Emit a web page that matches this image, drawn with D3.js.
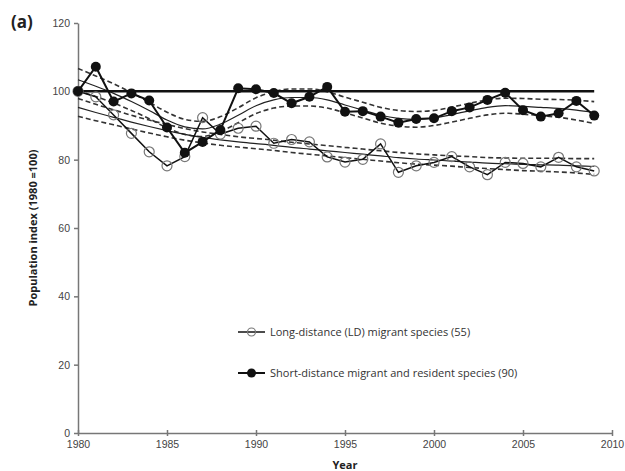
<!DOCTYPE html>
<html>
<head>
<meta charset="utf-8">
<script src="https://cdn.jsdelivr.net/npm/d3@7"></script>
<style>
  body { margin: 0; background: #fff; }
  svg { font-family: "Open Sans", sans-serif; }
  .tick text { fill: #444; font-size: 10.5px; }
  .axis path, .axis line { stroke: #777; stroke-width: 1.5; }
</style>
</head>
<body>
<div id="chart"></div>
<script>
var width = 625, height = 471;
var margin = {top: 23, right: 13, bottom: 38, left: 78};

var years = d3.range(1980, 2010);

// long-distance migrants (open circles)
var ldIndex = [100, 98.4, 93.1, 87.7, 82.3, 78.2, 80.9, 92.3, 87.5, 89.2,
               89.8, 84.8, 85.9, 85.2, 80.8, 79.3, 80.1, 84.6, 76.3, 78.2,
               79.2, 80.9, 77.9, 75.6, 79.2, 78.9, 77.9, 80.7, 77.9, 76.7];
// short-distance migrants and residents (filled circles)
var sdIndex = [100, 107.2, 97.0, 99.4, 97.3, 89.4, 82.0, 85.2, 88.7, 100.9,
               100.6, 99.5, 96.5, 98.4, 101.3, 94.0, 94.2, 92.6, 90.8, 91.9,
               92.1, 94.2, 95.3, 97.5, 99.6, 94.5, 92.6, 93.6, 97.2, 92.9];

// smoothed trends and confidence limits
var sdTrend = [103.4, 101.5, 99.4, 97, 94.4, 91.6, 89.6, 89, 90.4, 93,
               95.8, 97.5, 98.2, 98.2, 97.5, 96, 94.5, 93, 92.1, 91.8,
               92.2, 93.2, 94.3, 95.3, 95.8, 95.6, 95.3, 95, 94.5, 93.8];
var sdHalf  = [3.3, 3.0, 2.8, 2.6, 2.4, 2.3, 2.2, 2.2, 2.2, 2.2,
               2.3, 2.4, 2.5, 2.5, 2.4, 2.3, 2.3, 2.3, 2.3, 2.3,
               2.2, 2.2, 2.2, 2.2, 2.2, 2.3, 2.4, 2.6, 2.9, 3.2];
var ldTrend = [95.3, 93.8, 92.4, 91, 89.7, 88.5, 87.4, 86.5, 85.8, 85.2,
               84.7, 84.2, 83.6, 83.1, 82.6, 82.1, 81.6, 81.1, 80.6, 80.2,
               79.9, 79.6, 79.3, 79, 78.8, 78.6, 78.5, 78.4, 78.2, 78];
var ldHalf  = [2.6, 2.4, 2.2, 2.0, 1.9, 1.8, 1.7, 1.6, 1.6, 1.5,
               1.5, 1.5, 1.5, 1.5, 1.5, 1.5, 1.5, 1.5, 1.5, 1.5,
               1.5, 1.5, 1.6, 1.6, 1.7, 1.8, 1.9, 2.0, 2.1, 2.3];

var xTicks = [1980, 1985, 1990, 1995, 2000, 2005, 2010];
var yTicks = [0, 20, 40, 60, 80, 100, 120];

var svg = d3.select("#chart").append("svg")
    .attr("width", width)
    .attr("height", height);

var x = d3.scaleLinear().domain([1980, 2010]).range([margin.left, width - margin.right]);
var y = d3.scaleLinear().domain([0, 120]).range([height - margin.bottom, margin.top]);

// axes
svg.append("g")
  .attr("class", "axis")
  .attr("transform", "translate(0," + y(0) + ")")
  .call(d3.axisBottom(x).tickValues(xTicks).tickFormat(d3.format("d")).tickSizeInner(3).tickSizeOuter(0))
  .call(function(g){
    g.selectAll(".tick line").attr("y1", -3);
    g.selectAll(".tick text").attr("dy", "0.9em");
  });

svg.append("g")
  .attr("class", "axis")
  .attr("transform", "translate(" + x(1980) + ",0)")
  .call(d3.axisLeft(y).tickValues(yTicks).tickSizeInner(4).tickSizeOuter(0))
  .call(function(g){ g.selectAll(".tick text").attr("x", -8); });

svg.append("text")
  .attr("x", 345).attr("y", 469)
  .attr("text-anchor", "middle")
  .attr("font-weight", "bold").attr("font-size", 11).attr("fill", "#222")
  .text("Year");

svg.append("text")
  .attr("transform", "translate(37," + ((y(0) + y(120)) / 2) + ") rotate(-90)")
  .attr("text-anchor", "middle")
  .attr("font-weight", "bold").attr("font-size", 11).attr("fill", "#222")
  .text("Population index (1980 =100)");

svg.append("text")
  .attr("x", 11).attr("y", 28)
  .attr("font-weight", "bold").attr("font-size", 17).attr("fill", "#222")
  .text("(a)");

// trend lines
var line = d3.line()
  .x(function(d){ return x(d[0]); })
  .y(function(d){ return y(d[1]); })
  .curve(d3.curveMonotoneX);

function band(trend, half){
  var up = years.map(function(yr, i){ return [yr, trend[i] + half[i]]; });
  var lo = years.map(function(yr, i){ return [yr, trend[i] - half[i]]; });
  var mid = years.map(function(yr, i){ return [yr, trend[i]]; });
  [up, lo].forEach(function(p){
    svg.append("path").attr("d", line(p))
      .attr("fill", "none").attr("stroke", "#333")
      .attr("stroke-width", 1.6).attr("stroke-dasharray", "5,3");
  });
  svg.append("path").attr("d", line(mid))
    .attr("fill", "none").attr("stroke", "#222").attr("stroke-width", 1.2);
}
band(sdTrend, sdHalf);
band(ldTrend, ldHalf);

// reference at 100
svg.append("line")
  .attr("x1", x(1980)).attr("x2", x(2009))
  .attr("y1", y(100)).attr("y2", y(100))
  .attr("stroke", "#111").attr("stroke-width", 2.5);

var straight = d3.line()
  .x(function(d){ return x(d[0]); })
  .y(function(d){ return y(d[1]); });

var ld = years.map(function(yr, i){ return [yr, ldIndex[i]]; });
var sd = years.map(function(yr, i){ return [yr, sdIndex[i]]; });

svg.append("path").attr("d", straight(ld))
  .attr("fill", "none").attr("stroke", "#111").attr("stroke-width", 1.5);
svg.selectAll(".ld").data(ld).enter().append("circle")
  .attr("class", "ld")
  .attr("cx", function(d){ return x(d[0]); })
  .attr("cy", function(d){ return y(d[1]); })
  .attr("r", 5)
  .attr("fill", "none").attr("stroke", "#777").attr("stroke-width", 1.2);

svg.append("path").attr("d", straight(sd))
  .attr("fill", "none").attr("stroke", "#111").attr("stroke-width", 2);
svg.selectAll(".sd").data(sd).enter().append("circle")
  .attr("class", "sd")
  .attr("cx", function(d){ return x(d[0]); })
  .attr("cy", function(d){ return y(d[1]); })
  .attr("r", 5)
  .attr("fill", "#111");

// legend
var legend = [
  {label: "Long-distance (LD) migrant species (55)", open: true, yy: 332},
  {label: "Short-distance migrant and resident species (90)", open: false, yy: 373}
];
legend.forEach(function(d){
  svg.append("line")
    .attr("x1", 238).attr("x2", 265).attr("y1", d.yy).attr("y2", d.yy)
    .attr("stroke", "#111").attr("stroke-width", d.open ? 1.5 : 2);
  svg.append("circle")
    .attr("cx", 251.5).attr("cy", d.yy).attr("r", d.open ? 4 : 4.5)
    .attr("fill", d.open ? "none" : "#111")
    .attr("stroke", d.open ? "#777" : "none").attr("stroke-width", 1.2);
  svg.append("text")
    .attr("x", 270).attr("y", d.yy).attr("dy", "0.35em")
    .attr("font-size", 11).attr("fill", "#333")
    .text(d.label);
});
</script>
</body>
</html>
